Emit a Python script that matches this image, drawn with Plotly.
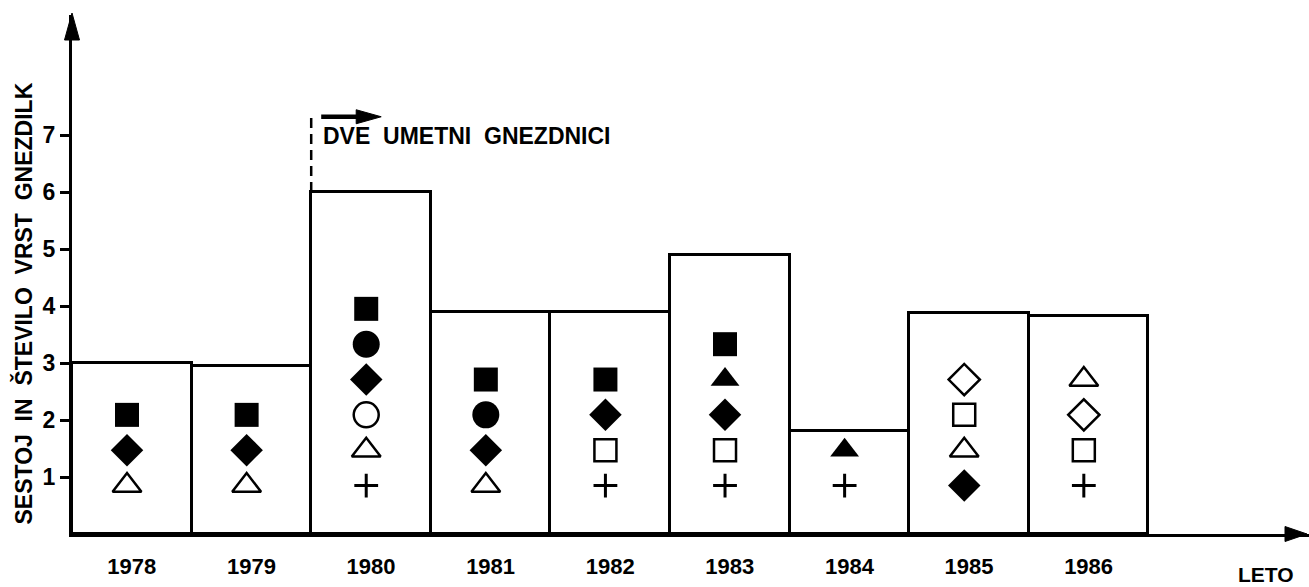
import plotly.graph_objects as go

# ---------------- data ----------------
years = ["1978", "1979", "1980", "1981", "1982", "1983", "1984", "1985", "1986"]
# bar heights as drawn (number of breeding species)
bar_heights = [3.0, 2.95, 6.0, 3.9, 3.9, 4.9, 1.8, 3.88, 3.82]
y_ticks = [1, 2, 3, 4, 5, 6, 7]

# species symbols present each year, listed top to bottom as drawn
sp_1978 = ["sq", "di", "ot"]
sp_1979 = ["sq", "di", "ot"]
sp_1980 = ["sq", "ci", "di", "oc", "ot", "pl"]
sp_1981 = ["sq", "ci", "di", "ot"]
sp_1982 = ["sq", "di", "os", "pl"]
sp_1983 = ["sq", "tr", "di", "os", "pl"]
sp_1984 = ["tr", "pl"]
sp_1985 = ["od", "os", "ot", "di"]
sp_1986 = ["ot", "od", "os", "pl"]
species_by_year = [sp_1978, sp_1979, sp_1980, sp_1981, sp_1982,
                   sp_1983, sp_1984, sp_1985, sp_1986]

# ---------------- styles ----------------
FONT = "Liberation Sans, Arial, Helvetica, sans-serif"
symbol_style = {
    "sq": dict(symbol="square", size=24, color="black", line=dict(width=0)),
    "ci": dict(symbol="circle", size=27, color="black", line=dict(width=0)),
    "di": dict(symbol="diamond", size=25, color="black", line=dict(width=0)),
    "oc": dict(symbol="circle-open", size=25, color="black", line=dict(width=2.5, color="black")),
    "ot": dict(symbol="triangle-up-open", size=25, color="black", line=dict(width=2.5, color="black")),
    "pl": dict(symbol="cross-thin-open", size=17, color="black", line=dict(width=3, color="black")),
    "tr": dict(symbol="triangle-up", size=25, color="black", line=dict(width=0)),
    "os": dict(symbol="square-open", size=22, color="black", line=dict(width=2.5, color="black")),
    "od": dict(symbol="diamond-open", size=24, color="black", line=dict(width=2.5, color="black")),
}
STACK_BASE = 0.85   # y of lowest marker in a column
STACK_STEP = 0.62   # vertical spacing between stacked markers
X_SHIFT = -0.04

xpos = list(range(len(years)))

fig = go.Figure()
fig.add_trace(go.Bar(
    x=xpos, y=bar_heights, width=1.0,
    marker=dict(color="white", line=dict(color="black", width=3)),
    hoverinfo="skip", showlegend=False,
))

# marker traces, one per symbol
pts = {k: ([], []) for k in symbol_style}
for i, sp in enumerate(species_by_year):
    n = len(sp)
    for j, key in enumerate(sp):
        k_from_bottom = n - 1 - j
        pts[key][0].append(xpos[i] + X_SHIFT)
        pts[key][1].append(STACK_BASE + k_from_bottom * STACK_STEP)
for key, (xs, ys) in pts.items():
    fig.add_trace(go.Scatter(x=xs, y=ys, mode="markers",
                             marker=symbol_style[key], showlegend=False,
                             hoverinfo="skip"))

PX_PER_X = 119.6
PLOT_W = 1309 - 72
PLOT_H = 534 - 15
PX_PER_Y = 57.0
x_range = [-0.5, -0.5 + PLOT_W / PX_PER_X]
y_range = [0, PLOT_H / PX_PER_Y]

fig.update_layout(
    width=1309, height=587,
    margin=dict(l=72, r=0, t=15, b=53),
    paper_bgcolor="white", plot_bgcolor="white",
    bargap=0,
    xaxis=dict(range=x_range, tickvals=xpos, ticktext=years,
               showgrid=False, zeroline=False,
               showline=True, linecolor="black", linewidth=3,
               ticks="outside", ticklen=11, tickcolor="rgba(0,0,0,0)",
               tickfont=dict(family=FONT, size=22, color="black", weight="bold")),
    yaxis=dict(range=y_range, tickvals=y_ticks,
               showgrid=False, zeroline=False,
               showline=True, linecolor="black", linewidth=3,
               ticks="outside", ticklen=9, tickwidth=2.5, tickcolor="black",
               tickfont=dict(family=FONT, size=23, color="black", weight="bold")),
)

# axis arrowheads
fig.add_shape(type="path", xref="paper", yref="paper", xsizemode="pixel", ysizemode="pixel",
              xanchor=0, yanchor=1, path="M0,2 L-7.5,-25 L7.5,-25 Z",
              fillcolor="black", line=dict(color="black", width=1))
fig.add_shape(type="path", xref="paper", yref="paper", xsizemode="pixel", ysizemode="pixel",
              xanchor=1, yanchor=0, path="M-2,0 L-24,7.5 L-24,-7.5 Z",
              fillcolor="black", line=dict(color="black", width=1))

# dashed marker line at start of 1980 and arrow
x_div = 1.5
fig.add_shape(type="line", xref="x", yref="y", x0=x_div, x1=x_div, y0=bar_heights[2], y1=7.4,
              line=dict(color="black", width=2.5, dash="10px,6px"))
arrow_y = 7.32
ax0 = x_div + 10 / PX_PER_X
ax1 = x_div + 70 / PX_PER_X
fig.add_shape(type="line", xref="x", yref="y", x0=ax0, x1=ax1 - 18 / PX_PER_X, y0=arrow_y, y1=arrow_y,
              line=dict(color="black", width=4.5))
fig.add_shape(type="path", xref="x", yref="y", xsizemode="pixel", ysizemode="pixel",
              xanchor=ax1, yanchor=arrow_y, path="M0,0 L-25,7 L-25,-7 Z",
              fillcolor="black", line=dict(color="black", width=1))

NB = "\u00a0"
fig.add_annotation(x=ax0, y=6.98, xref="x", yref="y", xanchor="left", yanchor="middle",
                   text="DVE" + NB + " UMETNI" + NB + " GNEZDNICI", showarrow=False,
                   font=dict(family=FONT, size=23, color="black", weight="bold"))

# axis titles
fig.add_annotation(x=0, y=(534 - 303.5) / PLOT_H, xref="paper", yref="paper",
                   xshift=-49, xanchor="center", yanchor="middle", textangle=-90,
                   text="SESTOJ" + NB + " IN" + NB + " ŠTEVILO" + NB + " VRST" + NB + " GNEZDILK",
                   showarrow=False,
                   font=dict(family=FONT, size=23, color="black", weight="bold"))
fig.add_annotation(x=1, y=0, xref="paper", yref="paper", xshift=-43, yshift=-40,
                   xanchor="center", yanchor="middle", text="LETO", showarrow=False,
                   font=dict(family=FONT, size=21, color="black", weight="bold"))

fig.write_html("out.html", config={"displayModeBar": False},
               post_script="document.body.style.margin='0px';document.body.style.padding='0px';")
